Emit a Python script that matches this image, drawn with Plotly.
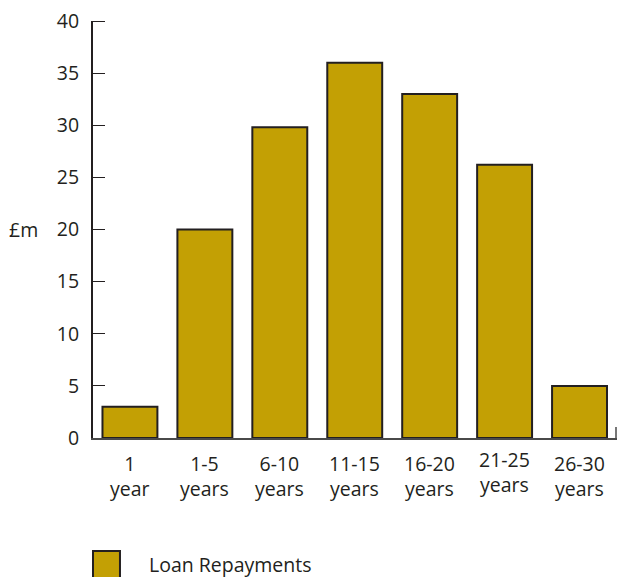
import plotly.graph_objects as go

# Loan repayment profile by maturity band
categories = ["1<br>year", "1-5<br>years", "6-10<br>years", "11-15<br>years",
              "16-20<br>years", "21-25<br>years", "26-30<br>years"]
repayments = [3, 20, 29.8, 36, 33, 26.2, 5]
y_ticks = [0, 5, 10, 15, 20, 25, 30, 35, 40]
series_name = "Loan Repayments"

GOLD = "#C3A004"
INK = "#231F20"
FONT = "Open Sans"
FS = 19.5

PLOT_W = 617 - 92.5
PLOT_H = 438 - 21

x_pos = list(range(len(categories)))

fig = go.Figure(go.Bar(
    x=x_pos, y=repayments, width=0.733,
    marker=dict(color=GOLD, line=dict(color=INK, width=2)),
    name=series_name, showlegend=False,
))

fig.update_layout(
    width=617, height=577,
    margin=dict(l=92.5, r=0, t=21, b=139),
    plot_bgcolor="white", paper_bgcolor="white",
    font=dict(family=FONT, size=FS, color=INK),
    xaxis=dict(
        range=[-0.493, 6.5], showticklabels=False, ticks="",
        showgrid=False, zeroline=False,
        showline=True, linecolor="#4a4a4a", linewidth=1.5,
    ),
    yaxis=dict(
        range=[0, 40], tickvals=y_ticks, ticks="inside", ticklen=12,
        tickwidth=1, tickcolor=INK, showgrid=False, zeroline=False,
        showline=True, linecolor=INK, linewidth=2,
        ticklabelstandoff=8, tickfont=dict(family=FONT, size=FS, color=INK),
    ),
)

# heavier cap tick at the top of the value axis
fig.add_shape(type="line", xref="paper", yref="y", x0=0, x1=12 / PLOT_W,
              y0=40, y1=40, line=dict(color=INK, width=2))

# short end tick at the right end of the category axis
fig.add_shape(type="line", xref="paper", yref="paper",
              x0=(616 - 92.5) / PLOT_W, x1=(616 - 92.5) / PLOT_W,
              y0=0, y1=11 / PLOT_H, line=dict(color="#4a4a4a", width=1.5))

# two-line category labels under each bar
for i, lab in enumerate(categories):
    yshift = 4 if i == 5 else 0
    fig.add_annotation(x=i, y=0, xref="x", yref="y", text=lab, showarrow=False,
                       yanchor="top", yshift=-10 + yshift,
                       font=dict(family=FONT, size=FS, color=INK))

# unit label
fig.add_annotation(x=-0.493, y=20, xref="x", yref="y", text="£m",
                   showarrow=False, xanchor="right", xshift=-53,
                   font=dict(family=FONT, size=FS, color=INK))

# legend key
fig.add_shape(type="rect", xref="paper", yref="paper",
              x0=0, x1=27 / PLOT_W, y0=-(551 - 438) / PLOT_H, y1=-(578 - 438) / PLOT_H,
              fillcolor=GOLD, line=dict(color=INK, width=2))
fig.add_annotation(x=55 / PLOT_W, y=-(564 - 438) / PLOT_H, xref="paper", yref="paper",
                   text=series_name, showarrow=False, xanchor="left", yanchor="middle",
                   borderpad=0,
                   font=dict(family=FONT, size=FS, color=INK))

fig.write_html("out.html")
